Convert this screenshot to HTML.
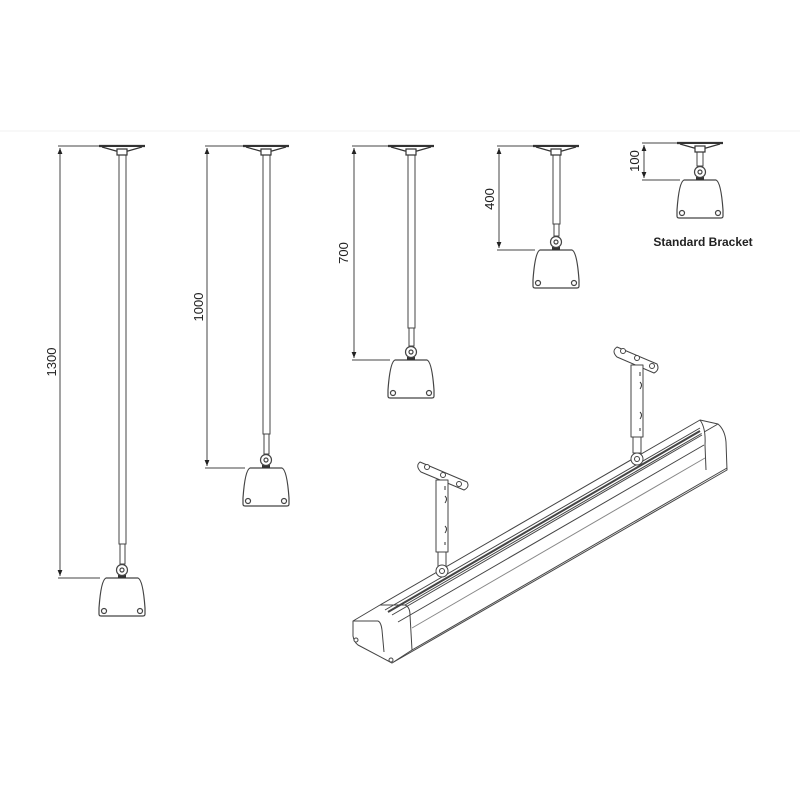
<!DOCTYPE html>
<html><head><meta charset="utf-8"><style>body{margin:0;background:#fff}svg{display:block}</style></head>
<body>
<svg width="800" height="800" viewBox="0 0 800 800" xmlns="http://www.w3.org/2000/svg" font-family="Liberation Sans, Arial, sans-serif">
<defs>
<g id="heat" fill="#fff" stroke="#444" stroke-width="1.2">
<path d="M-16,0 L16,0 Q21,2 23,30 L23,36 Q23,38 21,38 L-21,38 Q-23,38 -23,36 L-23,30 Q-21,2 -16,0 Z"/>
<circle cx="-18" cy="33" r="2.5"/><circle cx="18" cy="33" r="2.5"/>
<rect x="-4" y="-3" width="8" height="3" fill="#333" stroke="none"/>
<circle cx="0" cy="-8" r="5.5"/><circle cx="0" cy="-8" r="2"/>
</g>
<g id="plate" fill="#fff" stroke="#333" stroke-width="1.2">
<line x1="-23" y1="0" x2="23" y2="0" stroke-width="2.2"/>
<path d="M-20,1 L-6,5 L6,5 L20,1"/>
<rect x="-5" y="3" width="10" height="6"/>
</g>
<marker id="a" viewBox="0 0 10 10" refX="10" refY="5" markerWidth="6" markerHeight="8" orient="auto-start-reverse"><path d="M0,1 L10,5 L0,9 Z" fill="#222"/></marker>
</defs>
<line x1="0" y1="131" x2="800" y2="131" stroke="#f2f2f2" stroke-width="1"/>
<g stroke="#444" stroke-width="1" fill="none">
<line x1="58" y1="146" x2="100" y2="146"/><line x1="58" y1="578" x2="100" y2="578"/>
<line x1="60" y1="148" x2="60" y2="576" marker-start="url(#a)" marker-end="url(#a)"/>
<rect x="119" y="154" width="7" height="390" fill="#fff"/><rect x="120" y="544" width="5" height="20" fill="#fff"/>
<line x1="205" y1="146" x2="245" y2="146"/><line x1="205" y1="468" x2="245" y2="468"/>
<line x1="207" y1="148" x2="207" y2="466" marker-start="url(#a)" marker-end="url(#a)"/>
<rect x="263" y="154" width="7" height="280" fill="#fff"/><rect x="264" y="434" width="5" height="20" fill="#fff"/>
<line x1="352" y1="146" x2="390" y2="146"/><line x1="352" y1="360" x2="390" y2="360"/>
<line x1="354" y1="148" x2="354" y2="358" marker-start="url(#a)" marker-end="url(#a)"/>
<rect x="408" y="154" width="7" height="174" fill="#fff"/><rect x="409" y="328" width="5" height="18" fill="#fff"/>
<line x1="497" y1="146" x2="535" y2="146"/><line x1="497" y1="250" x2="535" y2="250"/>
<line x1="499" y1="148" x2="499" y2="248" marker-start="url(#a)" marker-end="url(#a)"/>
<rect x="553" y="154" width="7" height="70" fill="#fff"/><rect x="554" y="224" width="5" height="12" fill="#fff"/>
<line x1="642" y1="143" x2="680" y2="143"/><line x1="642" y1="180" x2="680" y2="180"/>
<line x1="644" y1="145" x2="644" y2="178" marker-start="url(#a)" marker-end="url(#a)"/>
<rect x="697" y="152" width="6" height="14" fill="#fff"/>
</g>
<use href="#plate" x="122" y="146"/><use href="#heat" x="122" y="578"/>
<use href="#plate" x="266" y="146"/><use href="#heat" x="266" y="468"/>
<use href="#plate" x="411" y="146"/><use href="#heat" x="411" y="360"/>
<use href="#plate" x="556" y="146"/><use href="#heat" x="556" y="250"/>
<use href="#plate" x="700" y="143"/><use href="#heat" x="700" y="180"/>
<g font-size="13" fill="#222">
<text transform="translate(56,362) rotate(-90)" text-anchor="middle">1300</text>
<text transform="translate(203,307) rotate(-90)" text-anchor="middle">1000</text>
<text transform="translate(348,253) rotate(-90)" text-anchor="middle">700</text>
<text transform="translate(494,199) rotate(-90)" text-anchor="middle">400</text>
<text transform="translate(639,161) rotate(-90)" text-anchor="middle">100</text>
</g>
<text x="703" y="246" font-size="12" font-weight="bold" text-anchor="middle" fill="#222">Standard Bracket</text>
<g stroke="#444" stroke-width="1" fill="#fff" stroke-linejoin="round">
<path d="M353,621 L380,605 L700,420 L718,424 Q725,430 726,442 L727,470 L392,663 L358,645 Q354,642 353,636 Z"/>
<path d="M380,605 L405,605 Q410,607 410,615 L412,650 L392,663"/>
<path d="M353,621 L378,621 Q381,622 382,630 L384,652"/>
<path d="M405,605 L718,424"/>
<path d="M412,650 L727,468"/>
<path d="M700,420 Q706,428 705,445 L706,470"/>
<path d="M385,610 L700,428 M392,615 L702,435 M398,622 L704,445"/>
<path d="M388,612 L700,431" stroke-width="2"/>
<path d="M412,628 L705,458" stroke="#888"/>
<circle cx="356" cy="640" r="2"/><circle cx="391" cy="660" r="2"/>
<path d="M420,462 L467,482 Q470,487 464,490 L421,472 Q415,466 420,462 Z"/>
<circle cx="427" cy="467" r="2.5"/><circle cx="443" cy="475" r="2.5"/><circle cx="459" cy="484" r="2.5"/>
<rect x="436" y="480" width="12" height="72"/>
<rect x="438" y="552" width="8" height="14"/>
<circle cx="442" cy="571" r="6"/><circle cx="442" cy="571" r="2.5"/>
<path d="M445,486 v4 M445,496 q3,3 0,7 M445,526 q3,3 0,7 M445,542 v3" stroke="#333"/>
<path d="M617,347 L657,364 Q660,370 654,373 L617,357 Q611,351 617,347 Z"/>
<circle cx="623" cy="351" r="2.5"/><circle cx="637" cy="358" r="2.5"/><circle cx="652" cy="366" r="2.5"/>
<rect x="631" y="365" width="12" height="72"/>
<rect x="633" y="437" width="8" height="16"/>
<circle cx="637" cy="459" r="6"/><circle cx="637" cy="459" r="2.5"/>
<path d="M640,372 v4 M640,382 q3,3 0,7 M640,412 q3,3 0,7 M640,428 v3" stroke="#333"/>
</g>
</svg>
</body></html>
